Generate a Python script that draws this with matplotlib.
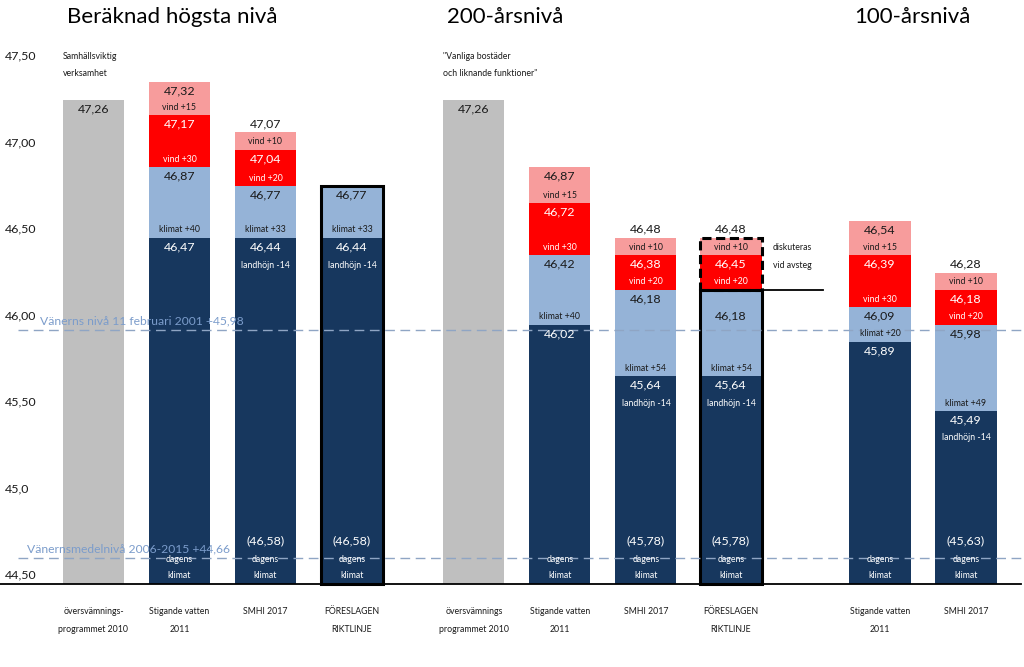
import numpy as np
import matplotlib
matplotlib.use("Agg")
import matplotlib.pyplot as plt
from matplotlib.transforms import blended_transform_factory
from matplotlib.patches import Rectangle

plt.rcParams['font.family'] = ['Lato', 'DejaVu Sans']

# ---------------- data (segment tops) ----------------
cat_line1 = ["översvämnings-", "Stigande vatten", "SMHI 2017", "FÖRESLAGEN",
             "översvämnings", "Stigande vatten", "SMHI 2017", "FÖRESLAGEN",
             "Stigande vatten", "SMHI 2017"]
cat_line2 = ["programmet 2010", "2011", "", "RIKTLINJE",
             "programmet 2010", "2011", "", "RIKTLINJE",
             "2011", ""]
gray_top = [47.25, None, None, None, 47.25, None, None, None, None, None]
navy_top = [None, 46.45, 46.45, 46.45, None, 45.95, 45.65, 45.65, 45.85, 45.45]
klimat_top = [None, 46.86, 46.75, 46.75, None, 46.35, 46.15, 46.15, 46.05, 45.95]
red_top = [None, 47.16, 46.96, None, None, 46.65, 46.35, 46.35, 46.35, 46.15]
pink_top = [None, 47.35, 47.06, None, None, 46.86, 46.45, 46.45, 46.55, 46.25]

# label texts as printed in the chart
gray_label = ["47,26", None, None, None, "47,26", None, None, None, None, None]
navy_label = [None, "46,47", "46,44", "46,44", None, "46,02", "45,64", "45,64", "45,89", "45,49"]
klimat_label = [None, "46,87", "46,77", "46,77", None, "46,42", "46,18", "46,18", "46,09", "45,98"]
red_label = [None, "47,17", "47,04", None, None, "46,72", "46,38", "46,45", "46,39", "46,18"]
pink_label = [None, "47,32", "47,07", None, None, "46,87", "46,48", "46,48", "46,54", "46,28"]
klimat_txt = [None, "klimat +40", "klimat +33", "klimat +33", None, "klimat +40",
              "klimat +54", "klimat +54", "klimat +20", "klimat +49"]
vind_red_txt = [None, "vind +30", "vind +20", None, None, "vind +30", "vind +20",
                "vind +20", "vind +30", "vind +20"]
vind_pink_txt = [None, "vind +15", "vind +10", None, None, "vind +15", "vind +10",
                 "vind +10", "vind +15", "vind +10"]
landhojn_txt = [None, None, "landhöjn -14", "landhöjn -14", None, None,
                "landhöjn -14", "landhöjn -14", None, "landhöjn -14"]
dagens_value = [None, None, "(46,58)", "(46,58)", None, None, "(45,78)", "(45,78)",
                None, "(45,63)"]
base_level = 44.45
ytick_vals = [47.50, 47.00, 46.50, 46.00, 45.50, 45.00, 44.50]
ytick_txt = ["47,50", "47,00", "46,50", "46,00", "45,50", "45,0", "44,50"]
ref_levels = [45.92, 44.60]
ref_txt = ["Vänerns nivå 11 februari 2001 +45,98", "Vänernsmedelnivå 2006-2015 +44,66"]
group_titles = ["Beräknad högsta nivå", "200-årsnivå", "100-årsnivå"]
notes = [["Samhällsviktig", "verksamhet"], ["\"Vanliga bostäder", "och liknande funktioner\""]]
side_note = ["diskuteras", "vid avsteg"]

# ---------------- layout ----------------
positions = [0, 1, 2, 3.006, 4.424, 5.424, 6.424, 7.413, 9.145, 10.145]
width = 0.71
boxed_solid = {3: 46.75, 7: 46.15}
boxed_dashed = {7: (46.15, 46.45)}
light_label_dy = [-9, -9, -9, -9, -9, -9, -9, -26, -9, -9]

C_GRAY = "#BFBFBF"
C_NAVY = "#17375E"
C_LIGHT = "#95B3D7"
C_RED = "#FF0000"
C_PINK = "#F79C9C"
C_DARK = "#1a1a1a"
C_REFLINE = "#8FA5C4"
C_REFTXT = "#7B9CCB"

FS_VAL = 8.9
FS_SMALL = 6.3

fig = plt.figure(figsize=(10.24, 6.67), dpi=100)
ax = fig.add_axes([0, 83 / 667, 1, 554 / 667])
px_per_unit = 173.0
ax.set_xlim(-93.5 / 86, (1024 - 93.5) / 86)
ax.set_ylim(base_level, base_level + 554 / px_per_unit)
ax.axis('off')


def lab(x, y, s, dy, color, size):
    ax.annotate(s, (x, y), xytext=(0, dy), textcoords='offset pixels',
                ha='center', va='center', color=color, fontsize=size,
                zorder=6, annotation_clip=False)


for i, x in enumerate(positions):
    if gray_top[i] is not None:
        ax.bar(x, gray_top[i] - base_level, width, bottom=base_level, color=C_GRAY, zorder=2)
        lab(x, gray_top[i], gray_label[i], -9, C_DARK, FS_VAL)
        continue
    # dagens klimat / landhöjning (navy)
    nt = navy_top[i]
    ax.bar(x, nt - base_level, width, bottom=base_level, color=C_NAVY, zorder=2)
    lab(x, nt, navy_label[i], -9, "white", FS_VAL)
    if landhojn_txt[i]:
        lab(x, nt, landhojn_txt[i], -27, "white", FS_SMALL)
    lab(x, base_level, "dagens", 25, "white", FS_SMALL)
    lab(x, base_level, "klimat", 8, "white", FS_SMALL)
    if dagens_value[i]:
        lab(x, base_level, dagens_value[i], 43, "white", FS_VAL)
    # klimat (light blue)
    kt = klimat_top[i]
    ax.bar(x, kt - nt, width, bottom=nt, color=C_LIGHT, zorder=2)
    lab(x, kt, klimat_label[i], light_label_dy[i], C_DARK, FS_VAL)
    lab(x, nt, klimat_txt[i], 8, C_DARK, FS_SMALL)
    # vind (red + pink)
    if red_top[i] is not None:
        rt = red_top[i]
        ax.bar(x, rt - kt, width, bottom=kt, color=C_RED, zorder=2)
        lab(x, rt, red_label[i], -9, "white", FS_VAL)
        lab(x, kt, vind_red_txt[i], 8, "white", FS_SMALL)
        pt = pink_top[i]
        ax.bar(x, pt - rt, width, bottom=rt, color=C_PINK, zorder=2)
        lab(x, rt, vind_pink_txt[i], 8, C_DARK, FS_SMALL)
        if pt - rt >= 0.15:
            lab(x, pt, pink_label[i], -9, C_DARK, FS_VAL)
        else:
            lab(x, pt, pink_label[i], 9, C_DARK, FS_VAL)

# boxes around proposed guideline
for i, top in boxed_solid.items():
    x = positions[i]
    ax.add_patch(Rectangle((x - width / 2, base_level), width, top - base_level,
                           fill=False, ec='black', lw=2.2, zorder=4, clip_on=False))
for i, (lo, hi) in boxed_dashed.items():
    x = positions[i]
    ax.add_patch(Rectangle((x - width / 2, lo), width, hi - lo, fill=False,
                           ec='black', lw=2.2, ls=(0, (3, 1.5)), zorder=4))
    ax.plot([x + width / 2, x + width / 2 + 0.71], [lo, lo], color='black', lw=1.3, zorder=4)
    ax.annotate(side_note[0], (x + width / 2 + 0.13, hi), xytext=(0, -10),
                textcoords='offset pixels', ha='left', va='center',
                fontsize=FS_SMALL, color=C_DARK)
    ax.annotate(side_note[1], (x + width / 2 + 0.13, hi), xytext=(0, -28),
                textcoords='offset pixels', ha='left', va='center',
                fontsize=FS_SMALL, color=C_DARK)

# reference lines
for lvl, txt, x0 in zip(ref_levels, ref_txt, [-0.62, -0.77]):
    ax.plot([-0.88, 10.85], [lvl, lvl], color=C_REFLINE, lw=1.0,
            ls=(0, (7, 4)), zorder=5)
    ax.annotate(txt, (x0, lvl), xytext=(0, 9), textcoords='offset pixels',
                ha='left', va='center', fontsize=8.7, color=C_REFTXT, zorder=7)

# baseline
ax.axhline(base_level, 0, 0.997, color='black', lw=1.3, zorder=5, clip_on=False)

# y tick labels
trans = blended_transform_factory(ax.transAxes, ax.transData)
for v, t in zip(ytick_vals, ytick_txt):
    ax.text(5 / 1024, v, t, transform=trans, ha='left', va='center',
            fontsize=FS_VAL, color=C_DARK)

# category labels
for x, l1, l2 in zip(positions, cat_line1, cat_line2):
    ax.annotate(l1, (x, base_level), xytext=(0, -28), textcoords='offset pixels',
                ha='center', va='center', fontsize=FS_SMALL, color=C_DARK, annotation_clip=False)
    if l2:
        ax.annotate(l2, (x, base_level), xytext=(0, -45), textcoords='offset pixels',
                    ha='center', va='center', fontsize=FS_SMALL, color=C_DARK, annotation_clip=False)

# notes above the grey bars
for i, lines in zip([0, 4], notes):
    x0 = positions[i] - width / 2
    ax.text(x0, 47.50, lines[0], ha='left', va='center', fontsize=FS_SMALL, color=C_DARK)
    ax.text(x0, 47.40, lines[1], ha='left', va='center', fontsize=FS_SMALL, color=C_DARK)

# group titles
for t, xp in zip(group_titles, [67, 447, 854]):
    fig.text(xp / 1024, 1 - 17 / 667, t, ha='left', va='center', fontsize=16, color='black')

fig.savefig("out.png", dpi=100)
